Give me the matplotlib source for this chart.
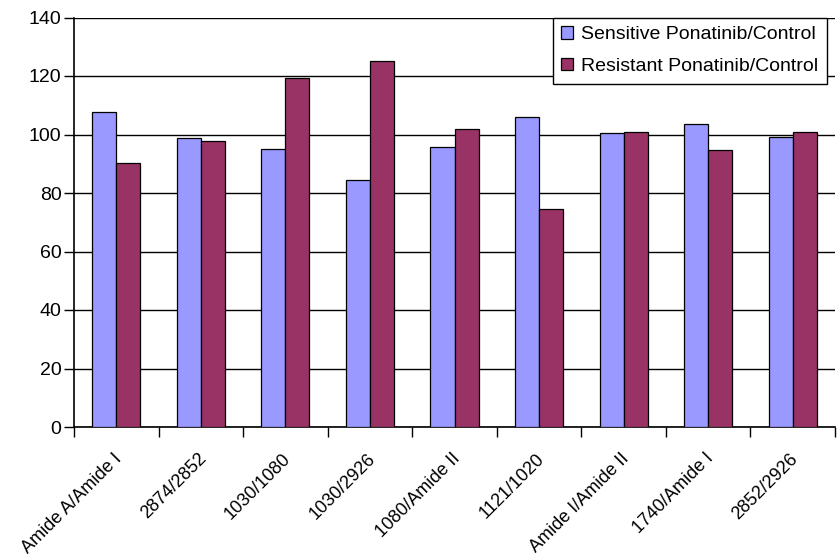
import numpy as np
import matplotlib.pyplot as plt
from matplotlib.transforms import ScaledTranslation

# Band ratios relative to control (%)
ratios = ['Amide A/Amide I', '2874/2852', '1030/1080', '1030/2926', '1080/Amide II',
          '1121/1020', 'Amide I/Amide II', '1740/Amide I', '2852/2926']
sensitive = [107.6, 98.8, 95.1, 84.6, 95.7, 106.1, 100.4, 103.5, 99.0]
resistant = [90.4, 97.8, 119.4, 125.1, 102.0, 74.7, 100.9, 94.6, 100.9]

plt.rcParams['font.family'] = ['Liberation Sans', 'DejaVu Sans']

fig = plt.figure(figsize=(8.38, 5.6), dpi=100)
ax = fig.add_axes([74 / 838, 1 - 427 / 560, 761 / 838, 409.5 / 560])

x = np.arange(len(ratios))
w = 0.285
ax.bar(x - w / 2, sensitive, w, color='#9999FF', edgecolor='black', linewidth=0.9,
       label='Sensitive Ponatinib/Control', zorder=3)
ax.bar(x + w / 2, resistant, w, color='#993366', edgecolor='black', linewidth=0.9,
       label='Resistant Ponatinib/Control', zorder=3)

ax.set_ylim(0, 140)
ax.set_xlim(-0.5, len(ratios) - 0.5)
ax.set_yticks(range(0, 141, 20))
ax.tick_params(axis='y', labelsize=14, length=7, width=1, direction='out', pad=2)
ax.yaxis.grid(True, color='black', linewidth=1, zorder=0)

# category ticks sit between groups, labels under group centers
ax.set_xticks(np.arange(len(ratios) + 1) - 0.5)
ax.set_xticklabels([])
ax.set_xticks(x, minor=True)
ax.set_xticklabels(ratios, minor=True, rotation=45, ha='right', va='center',
                   rotation_mode='anchor', fontsize=13)
ax.tick_params(axis='x', which='major', length=7, width=1, direction='out')
ax.tick_params(axis='x', which='minor', length=0, pad=21)
shift = ScaledTranslation(3 / 100, 0, fig.dpi_scale_trans)
for lbl in ax.get_xticklabels(minor=True):
    lbl.set_transform(lbl.get_transform() + shift)

for side in ['top', 'right']:
    ax.spines[side].set_visible(False)
for side in ['left', 'bottom']:
    ax.spines[side].set_linewidth(1.2)

leg = ax.legend(loc='upper right', bbox_to_anchor=(0.989, 1.0), fontsize=14,
                frameon=True, fancybox=False, edgecolor='black', framealpha=1,
                handlelength=0.6, handleheight=0.6, handletextpad=0.4,
                borderpad=0.45, labelspacing=0.75, borderaxespad=0)
leg.get_frame().set_linewidth(1)

fig.savefig('out.png', dpi=100)
